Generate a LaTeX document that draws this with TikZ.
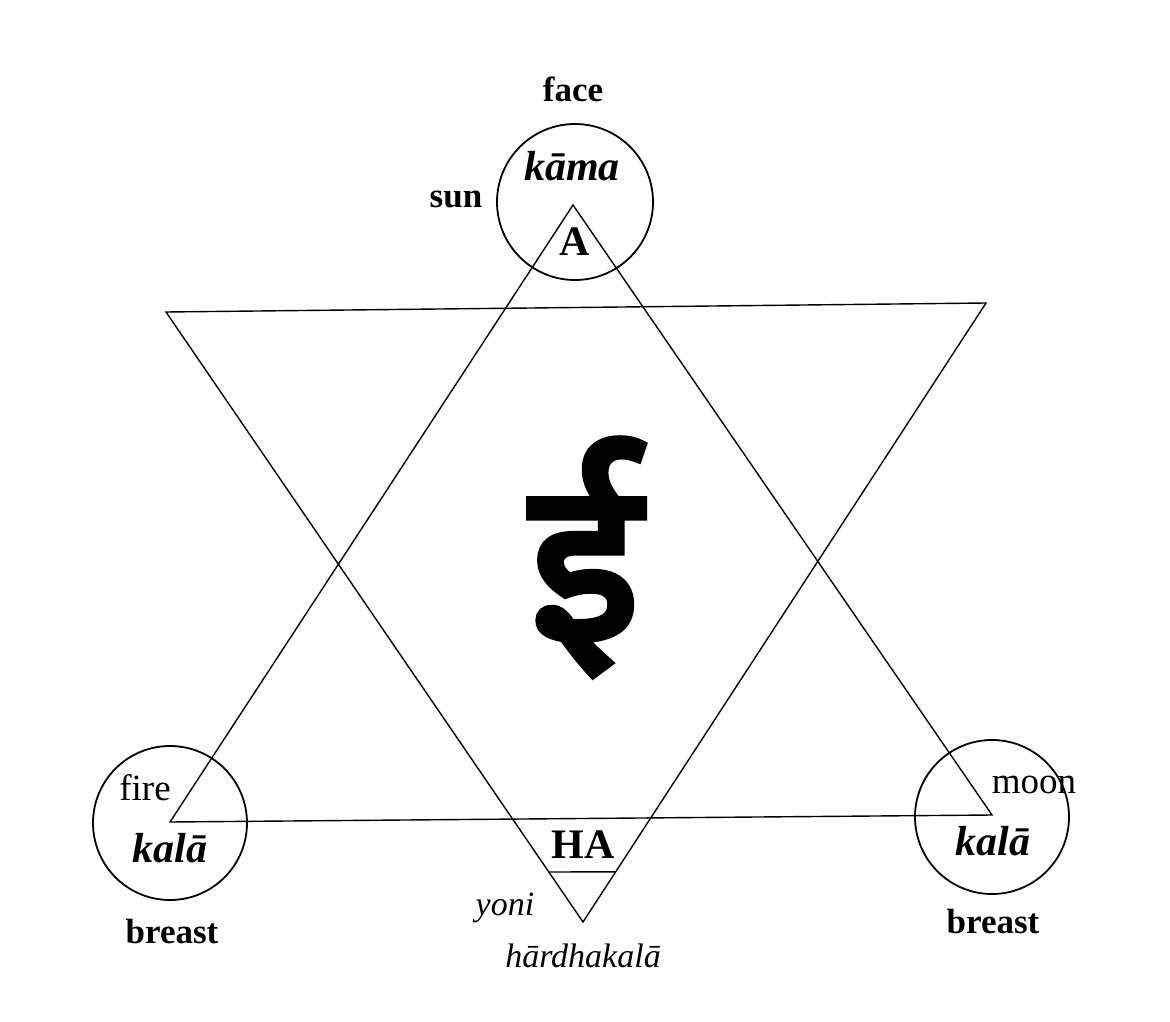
\documentclass[tikz,border=0pt]{standalone}
\usepackage{fontspec}
\setmainfont{Liberation Serif}
\newfontfamily\devfont[Script=Devanagari, FakeBold=4]{Noto Sans}
\usetikzlibrary{calc}
\begin{document}
\begin{tikzpicture}[x=1pt,y=-1pt,
  edge/.style={line width=1.4pt, line join=miter},
  ring/.style={line width=1.8pt},
  lbl/.style={inner sep=0pt, anchor=base, font=\fontsize{35}{35}\selectfont\bfseries},
  lblr/.style={inner sep=0pt, anchor=base, font=\fontsize{37}{37}\selectfont},
  itl/.style={inner sep=0pt, anchor=base, font=\fontsize{34}{34}\selectfont\itshape},
  bit/.style={inner sep=0pt, anchor=base, font=\fontsize{42}{42}\selectfont\bfseries\itshape},
  syl/.style={inner sep=0pt, anchor=base, font=\fontsize{42}{42}\selectfont\bfseries}]
\useasboundingbox (0,0) rectangle (1170,1022);
% triangles
\coordinate (u1) at (573,205);
\coordinate (u2) at (170,822);
\coordinate (u3) at (992,815);
\coordinate (d1) at (166,312);
\coordinate (d2) at (986,303);
\coordinate (d3) at (583,922);
\draw[edge] (u1) -- (u2) -- (u3) -- cycle;
\draw[edge] (d1) -- (d2) -- (d3) -- cycle;
\coordinate (hl) at ($(d1)!0.918!(d3)$);
\coordinate (hr) at ($(d2)!0.919!(d3)$);
\draw[edge] (hl) -- (hr);
% circles
\node[ring, draw, circle, minimum size=156pt, inner sep=0pt] (ctop) at (575,202) {};
\node[ring, draw, circle, minimum size=154pt, inner sep=0pt] (cleft) at (170,823) {};
\node[ring, draw, circle, minimum size=154pt, inner sep=0pt] (cright) at (992,817) {};
% labels
\node[lbl] (face) at (573,102) {face};
\node[bit] (kama) at (572,180) {kāma};
\node[lbl] (sun) at (456,207) {sun};
\node[syl] (A) at (575,255) {A};
\node[lblr] (fire) at (145,800) {fire};
\node[bit] (kalaL) at (170,862) {kalā};
\node[lbl] (breastL) at (172,943) {breast};
\node[lblr] (moon) at (1034,793) {moon};
\node[bit] (kalaR) at (993,855) {kalā};
\node[lbl] (breastR) at (993,933) {breast};
\node[syl] (HA) at (583,858) {HA};
\node[itl] (yoni) at (505,915) {yoni};
\node[itl] (hard) at (583,967) {hārdhakalā};
% central letter
\node[inner sep=0pt, font=\devfont\fontsize{222}{222}\selectfont] (ii) at (585,557) {ई};
\end{tikzpicture}
\end{document}
